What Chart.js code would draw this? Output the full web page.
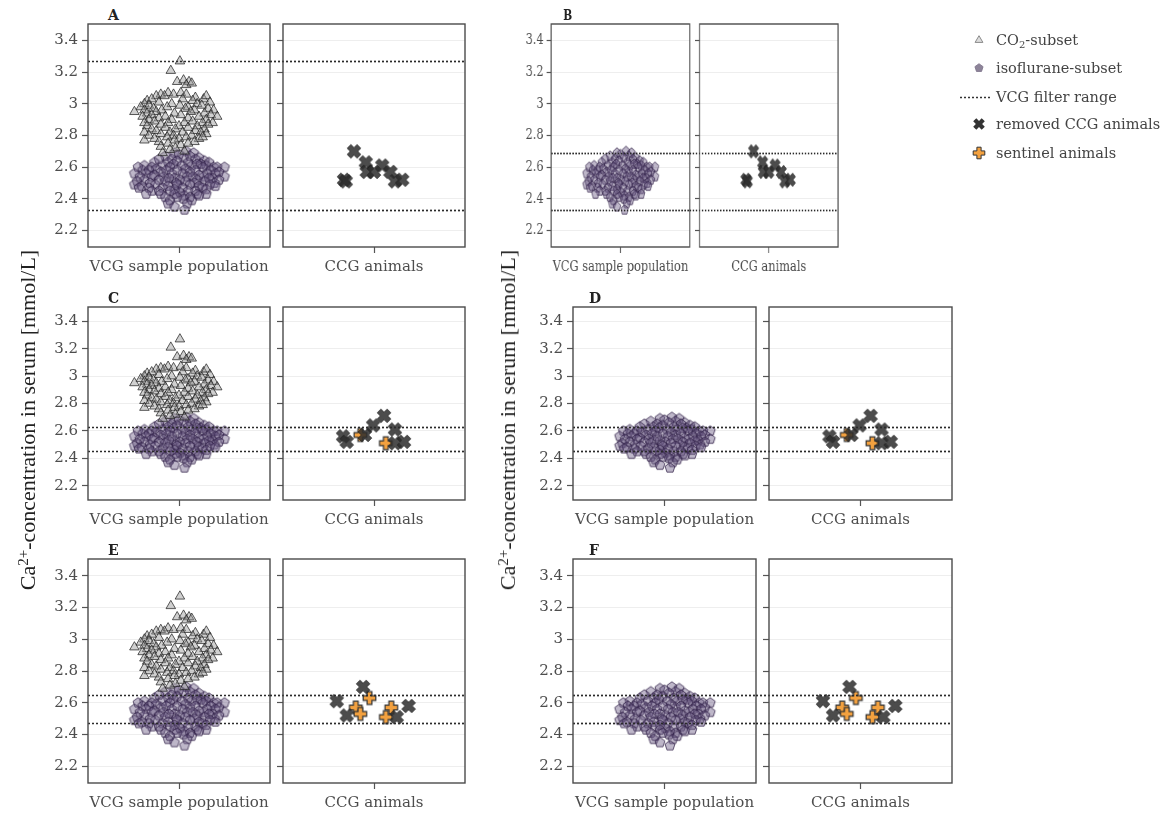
<!DOCTYPE html>
<html>
<head>
<meta charset="utf-8">
<script src="https://cdn.jsdelivr.net/npm/chart.js@4.4.1/dist/chart.umd.min.js"></script>
<style>
  body { margin: 0; background: #fff; width: 1170px; height: 817px; overflow: hidden; position: relative; }
  .panel { position: absolute; left: 0; top: 0; width: 1170px; height: 817px; }
  canvas { position: absolute; }
  .letter { position: absolute; font-family: 'DejaVu Serif', serif; font-weight: bold; font-size: 14px; line-height: 14px; color: #222; }
  .ytitle { position: absolute; font-family: 'Liberation Serif', serif; font-size: 22px; line-height: 22px; color: #222;
            white-space: nowrap; transform: translate(-50%, -50%) rotate(-90deg); }
  .ytitle sup { font-size: 15px; vertical-align: 7px; line-height: 0; }
  .leg { position: absolute; font-family: 'DejaVu Serif', serif; font-size: 14.5px; line-height: 20px; color: #444; white-space: nowrap; }
  .leg sub { font-size: 10px; vertical-align: -3px; line-height: 0; }
  svg.mk { position: absolute; }
</style>
</head>
<body>
<script>
// ---- data ------------------------------------------------------------
const panelLetters = ['A', 'B', 'C', 'D', 'E', 'F'];
const xLabels = ['VCG sample population', 'CCG animals'];
const yTicks = [2.2, 2.4, 2.6, 2.8, 3, 3.2, 3.4];
const yTickLabels = ['2.2', '2.4', '2.6', '2.8', '3', '3.2', '3.4'];

// VCG filter range per panel (A..F)
const filterLow  = [2.33, 2.33, 2.45, 2.45, 2.47, 2.47];
const filterHigh = [3.27, 2.69, 2.63, 2.63, 2.65, 2.65];

// CO2-subset (triangles), jitter = horizontal offset inside the panel
const co2Values = [
  3.27, 3.21, 3.14, 3.15, 3.14, 3.12, 3.13,
  3.06, 3.07, 3.06, 3.07, 3.05, 3.05, 3.06, 3.04,
  3.02, 3.03, 3.03, 3.02, 3.03, 3.05,
  3.00, 3.01, 3.00, 3.00, 3.01,
  2.98, 2.99, 2.98, 2.99, 2.98, 2.99,
  2.96, 2.97, 2.96, 2.97, 2.96, 2.97, 2.96,
  2.95, 2.94, 2.95, 2.94, 2.95, 2.94,
  2.92, 2.93, 2.92, 2.93, 2.92, 2.93, 2.92,
  2.90, 2.91, 2.90, 2.91, 2.90,
  2.88, 2.89, 2.88, 2.88, 2.89, 2.88, 2.88,
  2.86, 2.87, 2.86, 2.86, 2.87,
  2.84, 2.85, 2.84, 2.85, 2.84,
  2.82, 2.83, 2.82, 2.82, 2.83, 2.82,
  2.80, 2.81, 2.80, 2.80, 2.81,
  2.78, 2.79, 2.78, 2.79, 2.78, 2.79,
  2.77, 2.76, 2.77, 2.76,
  2.75, 2.74, 2.75,
  2.73, 2.72,
  2.71, 2.70,
  2.69
];
const co2Jitter = [
  0.01, -0.09, -0.02, 0.05, 0.11, 0.08, 0.14,
  -0.20, -0.12, -0.06, 0.02, -0.25, -0.16, 0.08, 0.18,
  -0.35, -0.30, 0.04, 0.15, 0.27, 0.30,
  -0.38, -0.22, -0.08, 0.20, 0.34,
  -0.42, -0.33, -0.13, 0.01, 0.10, 0.25,
  -0.38, -0.28, -0.19, 0.07, 0.17, 0.32, 0.38,
  -0.49, -0.35, -0.25, -0.05, 0.13, 0.28,
  -0.40, -0.30, -0.15, 0.02, 0.22, 0.35, 0.42,
  -0.33, -0.22, -0.08, 0.10, 0.30,
  -0.38, -0.27, -0.12, 0.06, 0.15, 0.26, 0.37,
  -0.35, -0.20, 0.00, 0.20, 0.32,
  -0.30, -0.15, -0.04, 0.10, 0.28,
  -0.38, -0.25, -0.10, 0.04, 0.18, 0.24,
  -0.33, -0.20, -0.06, 0.14, 0.30,
  -0.27, -0.13, 0.00, 0.08, 0.22, 0.26,
  -0.38, -0.22, -0.05, 0.17,
  -0.12, 0.02, 0.10,
  -0.20, -0.04,
  -0.10, 0.06,
  -0.18
];

// isoflurane-subset (pentagons)
const isoValues = [
  2.69, 2.70, 2.69,
  2.67, 2.68, 2.67, 2.66,
  2.65, 2.65, 2.66, 2.65, 2.64,
  2.63, 2.63, 2.64, 2.63, 2.62, 2.63,
  2.61, 2.60, 2.61, 2.62, 2.61, 2.61, 2.62, 2.61, 2.60,
  2.60, 2.59, 2.60, 2.59, 2.60, 2.60, 2.60,
  2.58, 2.58, 2.57, 2.58, 2.58, 2.57, 2.58, 2.58, 2.57,
  2.56, 2.56, 2.55, 2.56, 2.56, 2.55, 2.56, 2.56,
  2.54, 2.54, 2.54, 2.53, 2.54, 2.54, 2.54, 2.53, 2.54,
  2.52, 2.52, 2.53, 2.52, 2.52, 2.53, 2.52,
  2.51, 2.50, 2.51, 2.50, 2.51, 2.50, 2.51, 2.50,
  2.49, 2.48, 2.49, 2.48, 2.49, 2.49, 2.48, 2.49, 2.48,
  2.47, 2.47, 2.47, 2.46, 2.47, 2.47, 2.46,
  2.45, 2.45, 2.45, 2.44, 2.45, 2.45,
  2.43, 2.43, 2.43, 2.42, 2.43, 2.43,
  2.41, 2.41, 2.41, 2.42,
  2.39, 2.40, 2.39,
  2.37, 2.37,
  2.35,
  2.33
];
const isoJitter = [
  -0.05, 0.08, 0.16,
  -0.15, 0.00, 0.12, 0.22,
  -0.22, -0.08, 0.05, 0.18, 0.28,
  -0.27, -0.12, -0.02, 0.10, 0.24, 0.33,
  -0.38, -0.30, -0.18, -0.06, 0.03, 0.14, 0.20, 0.30, 0.38,
  -0.45, -0.25, -0.10, 0.07, 0.26, 0.42, 0.50,
  -0.40, -0.33, -0.20, -0.14, -0.02, 0.12, 0.18, 0.35, 0.44,
  -0.49, -0.36, -0.27, -0.08, 0.04, 0.22, 0.31, 0.40,
  -0.43, -0.30, -0.17, -0.05, 0.09, 0.15, 0.27, 0.37, 0.50,
  -0.38, -0.22, -0.11, 0.01, 0.20, 0.33, 0.44,
  -0.46, -0.32, -0.15, -0.03, 0.07, 0.17, 0.28, 0.39,
  -0.49, -0.41, -0.26, -0.12, -0.02, 0.12, 0.22, 0.34, 0.40,
  -0.44, -0.33, -0.18, -0.05, 0.04, 0.26, 0.30,
  -0.30, -0.22, -0.10, 0.01, 0.10, 0.18,
  -0.36, -0.20, -0.05, 0.06, 0.20, 0.30,
  -0.15, -0.02, 0.12, 0.22,
  -0.10, 0.05, 0.14,
  -0.12, 0.09,
  -0.05,
  0.06
];

// CCG animals
const removedABValues = [2.52, 2.51, 2.70, 2.63, 2.57, 2.57, 2.61, 2.57, 2.51, 2.52];
const removedABJitter = [-0.33, -0.31, -0.22, -0.09, -0.08, 0.00, 0.09, 0.18, 0.23, 0.31];
const removedCDValues = [2.56, 2.52, 2.57, 2.64, 2.71, 2.61, 2.51, 2.52];
const removedCDJitter = [-0.34, -0.30, -0.10, -0.01, 0.11, 0.23, 0.23, 0.33];
const sentinelCDValues = [2.57, 2.51];
const sentinelCDJitter = [-0.15, 0.13];
const removedEFValues = [2.61, 2.52, 2.70, 2.51, 2.58];
const removedEFJitter = [-0.41, -0.30, -0.12, 0.25, 0.38];
const sentinelEFValues = [2.57, 2.53, 2.63, 2.51, 2.57];
const sentinelEFJitter = [-0.20, -0.15, -0.05, 0.13, 0.19];

// ---- markers ---------------------------------------------------------
const FONT = "'DejaVu Serif', serif";
const TICK_COLOR = '#4d4d4d';

function makePentagon(r, fill, stroke) {
  const s = Math.ceil(r * 2 + 3);
  const c = document.createElement('canvas');
  c.width = c.height = s;
  const g = c.getContext('2d');
  g.beginPath();
  for (let i = 0; i < 5; i++) {
    const a = -Math.PI / 2 + i * 2 * Math.PI / 5;
    g.lineTo(s / 2 + r * Math.cos(a), s / 2 + r * Math.sin(a));
  }
  g.closePath();
  g.fillStyle = fill; g.fill();
  g.strokeStyle = stroke; g.lineWidth = 1; g.stroke();
  return c;
}

function crossPoints(L, a, angle) {
  const base = [[a, L], [a, a], [L, a], [L, -a], [a, -a], [a, -L], [-a, -L], [-a, -a], [-L, -a], [-L, a], [-a, a], [-a, L]];
  const cs = Math.cos(angle), sn = Math.sin(angle);
  return base.map(([x, y]) => [x * cs - y * sn, x * sn + y * cs]);
}

function makeCross(L, a, angle, fill, stroke, lw) {
  const s = Math.ceil(L * 2 + 4);
  const c = document.createElement('canvas');
  c.width = c.height = s;
  const g = c.getContext('2d');
  g.beginPath();
  crossPoints(L, a, angle).forEach(([x, y]) => g.lineTo(s / 2 + x, s / 2 + y));
  g.closePath();
  g.fillStyle = fill; g.fill();
  g.strokeStyle = stroke; g.lineWidth = lw; g.stroke();
  return c;
}

const isoMarker = makePentagon(5.2, 'rgba(100,84,126,0.42)', 'rgba(45,30,68,0.75)');
const removedMarker = makeCross(7, 2.6, Math.PI / 4, 'rgba(45,45,45,0.85)', 'rgba(30,30,30,0.9)', 0.8);
const sentinelMarker = makeCross(6.3, 2.4, 0, '#f3a13f', '#333', 1.2);

// ---- plugins ---------------------------------------------------------
const framePlugin = {
  id: 'frame',
  afterDraw(chart) {
    const { ctx, chartArea: a } = chart;
    ctx.save();
    ctx.strokeStyle = '#4a4a4a';
    ctx.lineWidth = 1.4;
    ctx.strokeRect(a.left, a.top, a.right - a.left, a.bottom - a.top);
    ctx.restore();
  }
};

const filterPlugin = {
  id: 'filterLines',
  afterDatasetsDraw(chart, args, opts) {
    const { ctx, chartArea: a, scales: { y } } = chart;
    ctx.save();
    ctx.setLineDash([2, 2]);
    ctx.strokeStyle = '#2a2a2a';
    ctx.lineWidth = 1.7;
    opts.values.forEach(v => {
      const py = Math.round(y.getPixelForValue(v)) + 0.5;
      ctx.beginPath();
      ctx.moveTo(opts.fromEdge ? 0 : a.left, py);
      ctx.lineTo(a.right, py);
      ctx.stroke();
    });
    ctx.restore();
  }
};

function pts(xs, ys) { return xs.map((x, i) => ({ x, y: ys[i] })); }

function noPad(s) { s.paddingLeft = 0; s.paddingRight = 0; s.paddingTop = 0; s.paddingBottom = 0; }

function subplot(parent, left, top, w, h, yw, cfg) {
  const c = document.createElement('canvas');
  c.width = w; c.height = h;
  c.style.left = left + 'px'; c.style.top = top + 'px';
  c.style.width = w + 'px'; c.style.height = h + 'px';
  parent.appendChild(c);

  new Chart(c, {
    type: 'scatter',
    data: { datasets: cfg.datasets },
    plugins: [framePlugin, filterPlugin],
    options: {
      responsive: false,
      animation: false,
      events: [],
      layout: { autoPadding: false, padding: { top: 3, right: 2, left: 0, bottom: 0 } },
      plugins: {
        legend: { display: false },
        tooltip: { enabled: false },
        filterLines: { values: cfg.lines, fromEdge: cfg.fromEdge }
      },
      scales: {
        x: {
          type: 'linear', min: -1, max: 1,
          afterBuildTicks: s => { s.ticks = [{ value: 0 }]; },
          afterFit: s => { s.height = 34; noPad(s); },
          grid: { drawOnChartArea: false, tickLength: 6, tickColor: '#555', tickWidth: 1.2 },
          border: { display: false },
          ticks: { callback: () => cfg.xLabel, font: { family: FONT, size: 15 }, color: TICK_COLOR,
                   padding: 5, maxRotation: 0, autoSkip: false }
        },
        y: {
          type: 'linear', min: 2.095, max: 3.505,
          afterBuildTicks: s => { s.ticks = yTicks.map(v => ({ value: v })); },
          afterFit: s => { s.width = yw; noPad(s); },
          grid: { color: '#eeeeee', lineWidth: 1, tickLength: 6, tickColor: '#555', tickWidth: 1.2 },
          border: { display: false },
          ticks: { callback: (v, i) => cfg.showLabels ? yTickLabels[i] : '',
                   font: { family: FONT, size: 15 }, color: TICK_COLOR, padding: 4, autoSkip: false }
        }
      }
    }
  });
}

// ---- layout ----------------------------------------------------------
const cols = [{ left: 88, w: 182 }, { left: 573, w: 183 }];
const rows = [{ top: 24, h: 223 }, { top: 307, h: 193 }, { top: 559, h: 224 }];
const GAP = 13, YW = 58, XH = 34;

const ccg = [
  { removed: [removedABJitter, removedABValues], sentinel: null },
  { removed: [removedCDJitter, removedCDValues], sentinel: [sentinelCDJitter, sentinelCDValues] },
  { removed: [removedEFJitter, removedEFValues], sentinel: [sentinelEFJitter, sentinelEFValues] }
];

panelLetters.forEach((letter, i) => {
  const col = cols[i % 2], row = rows[Math.floor(i / 2)];
  const div = document.createElement('div');
  div.className = 'panel';
  if (i === 1) { div.style.transform = 'scaleX(0.757)'; div.style.transformOrigin = '483px 0'; }
  document.body.appendChild(div);

  const lab = document.createElement('div');
  lab.className = 'letter';
  lab.textContent = letter;
  lab.style.left = (col.left + (i % 2 ? 16 : 20)) + 'px';
  lab.style.top = (row.top - 16) + 'px';
  div.appendChild(lab);

  const showCo2 = i % 2 === 0;
  const lines = [filterLow[i], filterHigh[i]];
  const h = 3 + row.h + XH;

  const vcgSets = [];
  if (showCo2) {
    vcgSets.push({ data: pts(co2Jitter, co2Values), pointStyle: 'triangle', pointRadius: 5.5,
                   backgroundColor: 'rgba(150,150,150,0.45)', borderColor: 'rgba(30,30,30,0.72)', borderWidth: 1 });
  }
  vcgSets.push({ data: pts(isoJitter, isoValues), pointStyle: isoMarker, pointRadius: 5 });

  subplot(div, col.left - YW, row.top - 3, YW + col.w + 2, h, YW,
          { datasets: vcgSets, lines, fromEdge: false, showLabels: true, xLabel: xLabels[0] });

  const c = ccg[Math.floor(i / 2)];
  const ccgSets = [{ data: pts(c.removed[0], c.removed[1]), pointStyle: removedMarker, pointRadius: 6 }];
  if (c.sentinel) ccgSets.push({ data: pts(c.sentinel[0], c.sentinel[1]), pointStyle: sentinelMarker, pointRadius: 6 });

  subplot(div, col.left + col.w, row.top - 3, GAP + col.w + 2, h, GAP,
          { datasets: ccgSets, lines, fromEdge: true, showLabels: false, xLabel: xLabels[1] });
});

// ---- axis titles -----------------------------------------------------
[28, 508].forEach(cx => {
  const t = document.createElement('div');
  t.className = 'ytitle';
  t.innerHTML = 'Ca<sup>2+</sup>-concentration in serum [mmol/L]';
  t.style.left = cx + 'px';
  t.style.top = '420px';
  document.body.appendChild(t);
});

// ---- legend ----------------------------------------------------------
const legendItems = [
  { html: 'CO<sub>2</sub>-subset', y: 40, kind: 'tri' },
  { html: 'isoflurane-subset', y: 68, kind: 'pent' },
  { html: 'VCG filter range', y: 97, kind: 'line' },
  { html: 'removed CCG animals', y: 124, kind: 'x' },
  { html: 'sentinel animals', y: 153, kind: 'plus' }
];

function polyStr(p) { return p.map(([x, y]) => (19 + x).toFixed(2) + ',' + (10 + y).toFixed(2)).join(' '); }

legendItems.forEach(it => {
  const svgNS = 'http://www.w3.org/2000/svg';
  const svg = document.createElementNS(svgNS, 'svg');
  svg.setAttribute('class', 'mk');
  svg.setAttribute('width', 40); svg.setAttribute('height', 20);
  svg.style.left = '960px'; svg.style.top = (it.y - 10) + 'px';
  let shape;
  if (it.kind === 'tri') {
    shape = document.createElementNS(svgNS, 'polygon');
    shape.setAttribute('points', polyStr([[0, -4.3], [3.9, 2.4], [-3.9, 2.4]]));
    shape.setAttribute('fill', '#dddddd'); shape.setAttribute('stroke', '#8a8a8a'); shape.setAttribute('stroke-width', 1);
  } else if (it.kind === 'pent') {
    const p = [];
    for (let k = 0; k < 5; k++) { const a = -Math.PI / 2 + k * 2 * Math.PI / 5; p.push([4.3 * Math.cos(a), 4.3 * Math.sin(a)]); }
    shape = document.createElementNS(svgNS, 'polygon');
    shape.setAttribute('points', polyStr(p));
    shape.setAttribute('fill', '#8d8499'); shape.setAttribute('stroke', '#7b7189'); shape.setAttribute('stroke-width', 0.8);
  } else if (it.kind === 'line') {
    shape = document.createElementNS(svgNS, 'line');
    shape.setAttribute('x1', 0); shape.setAttribute('x2', 31); shape.setAttribute('y1', 10.5); shape.setAttribute('y2', 10.5);
    shape.setAttribute('stroke', '#333'); shape.setAttribute('stroke-width', 1.3); shape.setAttribute('stroke-dasharray', '2 2');
  } else if (it.kind === 'x') {
    shape = document.createElementNS(svgNS, 'polygon');
    shape.setAttribute('points', polyStr(crossPoints(6, 2.2, Math.PI / 4)));
    shape.setAttribute('fill', '#333');
  } else {
    shape = document.createElementNS(svgNS, 'polygon');
    shape.setAttribute('points', polyStr(crossPoints(5.8, 2.1, 0)));
    shape.setAttribute('fill', '#f3a13f'); shape.setAttribute('stroke', '#333'); shape.setAttribute('stroke-width', 1);
  }
  svg.appendChild(shape);
  document.body.appendChild(svg);

  const t = document.createElement('div');
  t.className = 'leg';
  t.innerHTML = it.html;
  t.style.left = '996px';
  t.style.top = (it.y - 10) + 'px';
  document.body.appendChild(t);
});
</script>
</body>
</html>
